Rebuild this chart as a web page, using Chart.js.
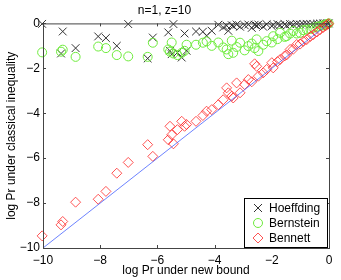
<!DOCTYPE html>
<html>
<head>
<meta charset="UTF-8">
<title>n=1, z=10</title>
<script src="https://cdn.jsdelivr.net/npm/chart.js"></script>
<style>
  body { margin: 0; padding: 0; background: #fff; }
  #wrap { width: 341px; height: 280px; }
</style>
</head>
<body>
<div id="wrap"><canvas id="chart" width="341" height="280"></canvas></div>
<script>
// log Pr under the new bound (one value per sample)
const logNew = [-10.03, -9.37, -9.31, -8.86, -8.07, -7.80, -7.42, -7.02, -6.34, -6.16,
  -5.62, -5.56, -5.50, -5.44, -5.30, -5.15, -5.05, -4.98, -4.65, -4.41,
  -4.28, -4.10, -3.87, -3.70, -3.58, -3.52, -3.40, -3.35, -3.23, -3.11,
  -2.95, -2.82, -2.70, -2.60, -2.53, -2.47, -2.30, -2.18, -2.00, -1.95,
  -1.80, -1.71, -1.55, -1.48, -1.36, -1.25, -1.13, -1.01, -0.90, -0.78,
  -0.65, -0.55, -0.42, -0.31, -0.20, -0.12, -0.05, -0.01];

// log Pr under the classical inequalities, same samples
const hoeffding = [-0.02, -1.34, -0.36, -1.10, -0.58, -0.65, -1.00, -0.03, -1.56, -0.63,
  -0.40, -1.22, -1.37, -0.03, -1.30, -1.52, -0.45, -1.22, -0.36, -0.37,
  -0.55, -0.33, -0.06, -0.18, -0.10, -0.33, -0.08, -0.12, -0.05, -0.15,
  -0.08, -0.05, -0.20, -0.06, -0.10, -0.05, -0.15, -0.04, -0.12, -0.06,
  -0.03, -0.08, -0.04, -0.10, -0.03, -0.06, -0.02, -0.05, -0.03, -0.02,
  -0.04, -0.02, -0.01, -0.01, 0, 0, 0, 0];

const bernstein = [-1.29, -1.26, -1.17, -1.49, -1.03, -1.10, -1.41, -1.47, -1.49, -0.86,
  -1.16, -1.26, -0.85, -1.34, -1.41, -1.31, -1.22, -0.95, -0.95, -0.86,
  -0.80, -1.00, -0.85, -1.07, -1.16, -1.37, -0.77, -1.31, -1.05, -0.86,
  -1.20, -1.01, -0.90, -1.10, -0.71, -1.23, -0.95, -0.79, -0.85, -0.57,
  -0.70, -0.42, -0.60, -0.57, -0.45, -0.34, -0.45, -0.42, -0.30, -0.27,
  -0.25, -0.19, -0.15, -0.12, -0.08, -0.05, -0.02, 0];

const bennett = [-9.46, -8.97, -8.82, -7.96, -7.83, -7.48, -6.67, -6.19, -5.40, -5.92,
  -5.18, -4.58, -4.96, -5.36, -4.73, -4.36, -4.58, -4.50, -4.36, -4.10,
  -3.91, -3.84, -3.62, -3.40, -2.87, -3.09, -3.24, -3.32, -2.65, -3.09,
  -2.72, -2.50, -2.60, -1.80, -1.91, -2.35, -2.20, -2.05, -1.75, -1.98,
  -1.70, -1.61, -1.45, -1.40, -1.16, -1.15, -0.94, -0.92, -0.80, -0.72,
  -0.58, -0.50, -0.38, -0.28, -0.18, -0.11, -0.04, -0.01];

// reference line y = x
const lineX = [-10, 0];
const lineY = [-10, 0];

const tickValues = [-10, -8, -6, -4, -2, 0];

const FONT = 'Liberation Sans, Arial, sans-serif';
const pts = ys => logNew.map((x, i) => ({ x: x, y: ys[i] }));

// box round the axes with inward ticks on all sides
const boxPlugin = {
  id: 'box',
  afterDatasetsDraw(chart) {
    const { ctx, chartArea: a, scales } = chart;
    ctx.save();
    ctx.strokeStyle = '#444';
    ctx.lineWidth = 1;
    ctx.strokeRect(a.left + 0.5, a.top + 0.5, a.right - a.left, a.bottom - a.top);
    ctx.beginPath();
    tickValues.forEach(v => {
      const x = Math.round(scales.x.getPixelForValue(v)) + 0.5;
      ctx.moveTo(x, a.bottom); ctx.lineTo(x, a.bottom - 3);
      ctx.moveTo(x, a.top); ctx.lineTo(x, a.top + 3);
      const y = Math.round(scales.y.getPixelForValue(v)) + 0.5;
      ctx.moveTo(a.left, y); ctx.lineTo(a.left + 3, y);
      ctx.moveTo(a.right, y); ctx.lineTo(a.right - 3, y);
    });
    ctx.stroke();
    ctx.restore();
  }
};

// legend in the lower right corner
const legendPlugin = {
  id: 'cornerLegend',
  afterDraw(chart) {
    const { ctx, chartArea: a } = chart;
    const w = 83, h = 49;
    const left = a.right - 2 - w, top = a.bottom - 1 - h;
    ctx.save();
    ctx.fillStyle = '#fff';
    ctx.fillRect(left, top, w, h);
    ctx.strokeStyle = '#000';
    ctx.lineWidth = 1;
    ctx.strokeRect(left + 0.5, top + 0.5, w, h);
    const items = chart.data.datasets.filter(d => d.legend);
    items.forEach((d, i) => {
      const cy = top + 10 + i * 15;
      const cx = left + 14;
      ctx.strokeStyle = d.borderColor;
      ctx.beginPath();
      if (d.pointStyle === 'crossRot') {
        ctx.moveTo(cx - 4, cy - 4); ctx.lineTo(cx + 4, cy + 4);
        ctx.moveTo(cx + 4, cy - 4); ctx.lineTo(cx - 4, cy + 4);
      } else if (d.pointStyle === 'circle') {
        ctx.arc(cx, cy, 4.5, 0, Math.PI * 2);
      } else {
        ctx.moveTo(cx - 5, cy); ctx.lineTo(cx, cy - 5);
        ctx.lineTo(cx + 5, cy); ctx.lineTo(cx, cy + 5); ctx.closePath();
      }
      ctx.stroke();
      ctx.fillStyle = '#000';
      ctx.font = '12px ' + FONT;
      ctx.textBaseline = 'middle';
      ctx.fillText(d.label, left + 25, cy + 0.5);
    });
    ctx.restore();
  }
};

new Chart(document.getElementById('chart'), {
  type: 'scatter',
  data: {
    datasets: [
      {
        label: 'Hoeffding', legend: true, data: pts(hoeffding),
        pointStyle: 'crossRot', pointRadius: 5.5, borderColor: '#333', backgroundColor: 'transparent',
        borderWidth: 1, clip: false, order: 3
      },
      {
        label: 'Bernstein', legend: true, data: pts(bernstein),
        pointStyle: 'circle', pointRadius: 4.5, borderColor: 'rgb(110,235,60)', backgroundColor: 'transparent',
        borderWidth: 1, clip: false, order: 2
      },
      {
        label: 'Bennett', legend: true, data: pts(bennett),
        pointStyle: 'rectRot', pointRadius: 5, borderColor: 'rgba(255,40,40,0.8)', backgroundColor: 'transparent',
        borderWidth: 1, clip: false, order: 1
      },
      {
        type: 'line', label: 'y=x', data: lineX.map((x, i) => ({ x: x, y: lineY[i] })),
        borderColor: 'rgba(60,90,255,0.75)', borderWidth: 1, pointRadius: 0, order: 0
      }
    ]
  },
  options: {
    responsive: false,
    animation: false,
    events: [],
    layout: { padding: { right: 12, left: 0, top: 0, bottom: 0 } },
    plugins: {
      legend: { display: false },
      tooltip: { enabled: false },
      title: {
        display: true, text: 'n=1, z=10', color: '#000',
        font: { family: FONT, size: 12, weight: 'normal' },
        padding: { top: 3, bottom: 6 }
      }
    },
    scales: {
      x: {
        type: 'linear', min: -10, max: 0,
        afterBuildTicks: s => { s.ticks = tickValues.map(v => ({ value: v })); },
        afterFit: s => { s.height = 32; },
        grid: { display: false, drawTicks: false },
        border: { display: false },
        ticks: {
          color: '#000', padding: 5, maxRotation: 0,
          font: { family: FONT, size: 12 },
          callback: v => String(v).replace('-', '\u2212')
        },
        title: {
          display: true, text: 'log Pr under new bound', color: '#000',
          font: { family: FONT, size: 12 }, padding: { top: 0, bottom: 2 }
        }
      },
      y: {
        type: 'linear', min: -10, max: 0,
        afterBuildTicks: s => { s.ticks = tickValues.map(v => ({ value: v })); },
        afterFit: s => { s.width = 43; },
        grid: { display: false, drawTicks: false },
        border: { display: false },
        ticks: {
          color: '#000', padding: 3,
          font: { family: FONT, size: 12 },
          callback: v => String(v).replace('-', '\u2212')
        },
        title: {
          display: true, text: 'log Pr under classical inequality', color: '#000',
          font: { family: FONT, size: 12 }, padding: { top: 4, bottom: 0 }
        }
      }
    }
  },
  plugins: [boxPlugin, legendPlugin]
});
</script>
</body>
</html>
